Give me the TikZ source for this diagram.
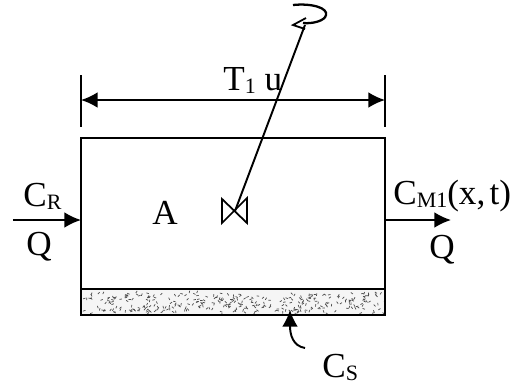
\documentclass[tikz,border=0pt]{standalone}
\usepackage{fontspec}
\setmainfont{Liberation Serif}
\usetikzlibrary{arrows.meta}
\newcommand{\lowtext}[1]{\raisebox{-1.8pt}{\fontsize{12.5}{12.5}\selectfont #1}}
\tikzset{
  lbl/.style={anchor=base west,inner sep=0pt,font=\fontsize{20}{20}\selectfont},
  flow/.style={line width=1.1pt,-{Latex[length=9.5pt,width=9pt]}},
  thin line/.style={line width=1pt}
}
\begin{document}
\begin{tikzpicture}[x=0.02cm,y=-0.02cm]
\useasboundingbox (0,0) rectangle (512,390);

% tank and bed
\fill[gray!8] (81,290) rectangle (385,315);
\begin{scope}
\clip (81,290) rectangle (385,315);
\pgfmathsetseed{4711}
\foreach \i in {1,...,340}{
  \pgfmathsetmacro{\px}{81+304*rnd}
  \pgfmathsetmacro{\py}{293+20*rnd}
  \pgfmathsetmacro{\ang}{360*rnd}
  \draw[line width=0.4pt,black!70] (\px,\py) -- ++(\ang:2.5);
}
\end{scope}
\draw[thin line] (81,138) rectangle (385,289);
\draw[line width=1.7pt] (81,289) rectangle (385,315);

\coordinate (dimL) at (81,100);
\coordinate (dimR) at (385,100);
\coordinate (inlet) at (13,220);
\coordinate (inletEnd) at (81,220);
\coordinate (outletStart) at (385,220);
\coordinate (outlet) at (451,220);
\coordinate (valve) at (235,211);
\coordinate (stemTop) at (305,25);
\coordinate (bedArrow) at (290,310);
\coordinate (bedTail) at (305,348);

% width dimension
\draw[thin line] (81,75) -- (81,127);
\draw[thin line] (385,75) -- (385,127);
\draw[flow,{Latex[length=9.5pt,width=9pt]}-{Latex[length=9.5pt,width=9pt]}] (dimL) -- (dimR);

% flows
\draw[flow] (inlet) -- (inletEnd);
\draw[flow] (outletStart) -- (outlet);
\draw[flow] (bedTail) .. controls (293,346) and (290,335) .. (bedArrow);

% stirrer
\draw[line width=1pt] (222,199) -- (247,223) -- (247,198) -- (222,223) -- cycle;
\draw[line width=1.1pt] (valve) -- (stemTop);
\draw[line width=1.3pt] (293,5) .. controls (312,3) and (328,8) .. (326,15)
  .. controls (325,21) and (312,24) .. (303,23);
\draw[line width=1pt] (306,18) -- (293,25) -- (305,29);

% labels
\node[lbl] (T1) at (223,90) {T\lowtext{1} u};
\node[lbl] (CR) at (23,206) {C\lowtext{R}};
\node[lbl] (Qin) at (26,255) {Q};
\node[lbl] (A) at (152,224) {A};
\node[lbl] (CM) at (393,204) {C\lowtext{M1}(x,\kern2.5pt t)};
\node[lbl] (Qout) at (429,258) {Q};
\node[lbl] (CS) at (322,377) {C\lowtext{S}};
\end{tikzpicture}
\end{document}
